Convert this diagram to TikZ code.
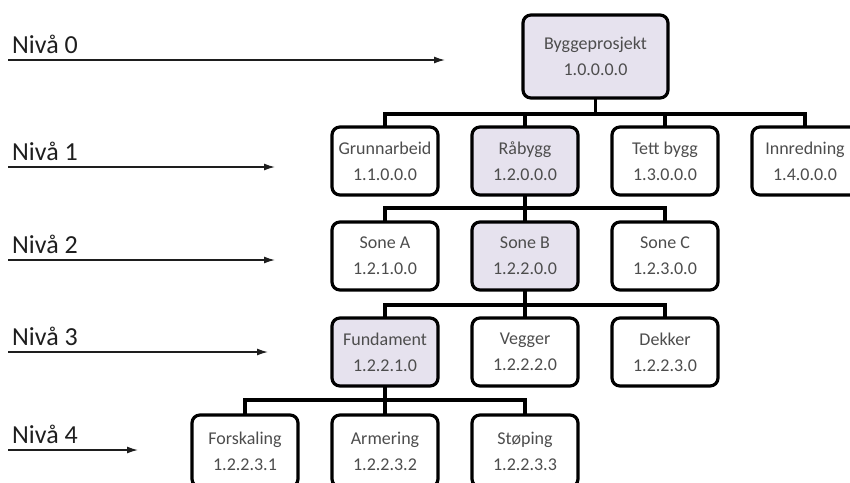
\documentclass[tikz,border=0pt]{standalone}
\usepackage{fontspec}
\setmainfont{Carlito}
\usetikzlibrary{arrows.meta}
\definecolor{boxtext}{HTML}{4D4D4D}
\definecolor{pathfill}{HTML}{E6E2EE}
\definecolor{lvltext}{HTML}{1E1E1E}
\tikzset{
  wbs/.style={draw=black, line width=3.2pt, rounded corners=8pt, fill=white,
    minimum width=106pt, minimum height=68pt, align=center, text=boxtext,
    font=\fontsize{18}{26}\selectfont, inner sep=0pt},
  onpath/.style={fill=pathfill},
  tie/.style={line width=3.2pt, line cap=rect, line join=miter},
  lvlarrow/.style={line width=1.4pt, draw=lvltext, -{Latex[length=11pt,width=7pt]}},
  lvllabel/.style={anchor=base west, inner sep=0pt, text=lvltext, font=\fontsize{26}{30}\selectfont}
}
\begin{document}
\begin{tikzpicture}[x=1pt, y=-1pt]
\useasboundingbox (0,0) rectangle (850,482);
\clip (0,0) rectangle (850,482);

% level markers on the left
\foreach \lv/\ly/\lx in {0/60/445, 1/167/275, 2/260/275, 3/352/268, 4/450/138} {
  \node[lvllabel] (lab\lv) at (12,\ly-7) {Nivå \lv};
  \coordinate (ls\lv) at (8,\ly);
  \coordinate (le\lv) at (\lx,\ly);
  \draw[lvlarrow] (ls\lv) -- (le\lv);
}

% horizontal rails joining parents to children
\coordinate (rail1) at (0,114);
\coordinate (rail2) at (0,208);
\coordinate (rail3) at (0,305);
\coordinate (rail4) at (0,400);

% level 0
\node[wbs, onpath, minimum width=145pt, minimum height=83pt] (root) at (595.5,56.5) {Byggeprosjekt\\1.0.0.0.0};

% level 1
\node[wbs] (grunn) at (385,161) {Grunnarbeid\\1.1.0.0.0};
\node[wbs, onpath] (raabygg) at (525,161) {Råbygg\\1.2.0.0.0};
\node[wbs] (tett) at (665,161) {Tett bygg\\1.3.0.0.0};
\node[wbs] (innr) at (805,161) {Innredning\\1.4.0.0.0};

% level 2
\node[wbs] (soneA) at (385,256) {Sone A\\1.2.1.0.0};
\node[wbs, onpath] (soneB) at (525,256) {Sone B\\1.2.2.0.0};
\node[wbs] (soneC) at (665,256) {Sone C\\1.2.3.0.0};

% level 3
\node[wbs, onpath] (fund) at (385,352) {Fundament\\1.2.2.1.0};
\node[wbs] (vegg) at (525,352) {Vegger\\1.2.2.2.0};
\node[wbs] (dekk) at (665,352) {Dekker\\1.2.2.3.0};

% level 4 (runs off the lower edge)
\node[wbs, minimum height=72pt] (forsk) at (245,451) {Forskaling\\1.2.2.3.1};
\node[wbs, minimum height=72pt] (armer) at (385,451) {Armering\\1.2.2.3.2};
\node[wbs, minimum height=72pt] (stop) at (525,451) {Støping\\1.2.2.3.3};

% connectors
\foreach \c in {grunn, raabygg, tett, innr}
  \draw[tie] (root.south) -- (root.south |- rail1) -| (\c.north);
\foreach \c in {soneA, soneB, soneC}
  \draw[tie] (raabygg.south) -- (raabygg.south |- rail2) -| (\c.north);
\foreach \c in {fund, vegg, dekk}
  \draw[tie] (soneB.south) -- (soneB.south |- rail3) -| (\c.north);
\foreach \c in {forsk, armer, stop}
  \draw[tie] (fund.south) -- (fund.south |- rail4) -| (\c.north);
\end{tikzpicture}
\end{document}
